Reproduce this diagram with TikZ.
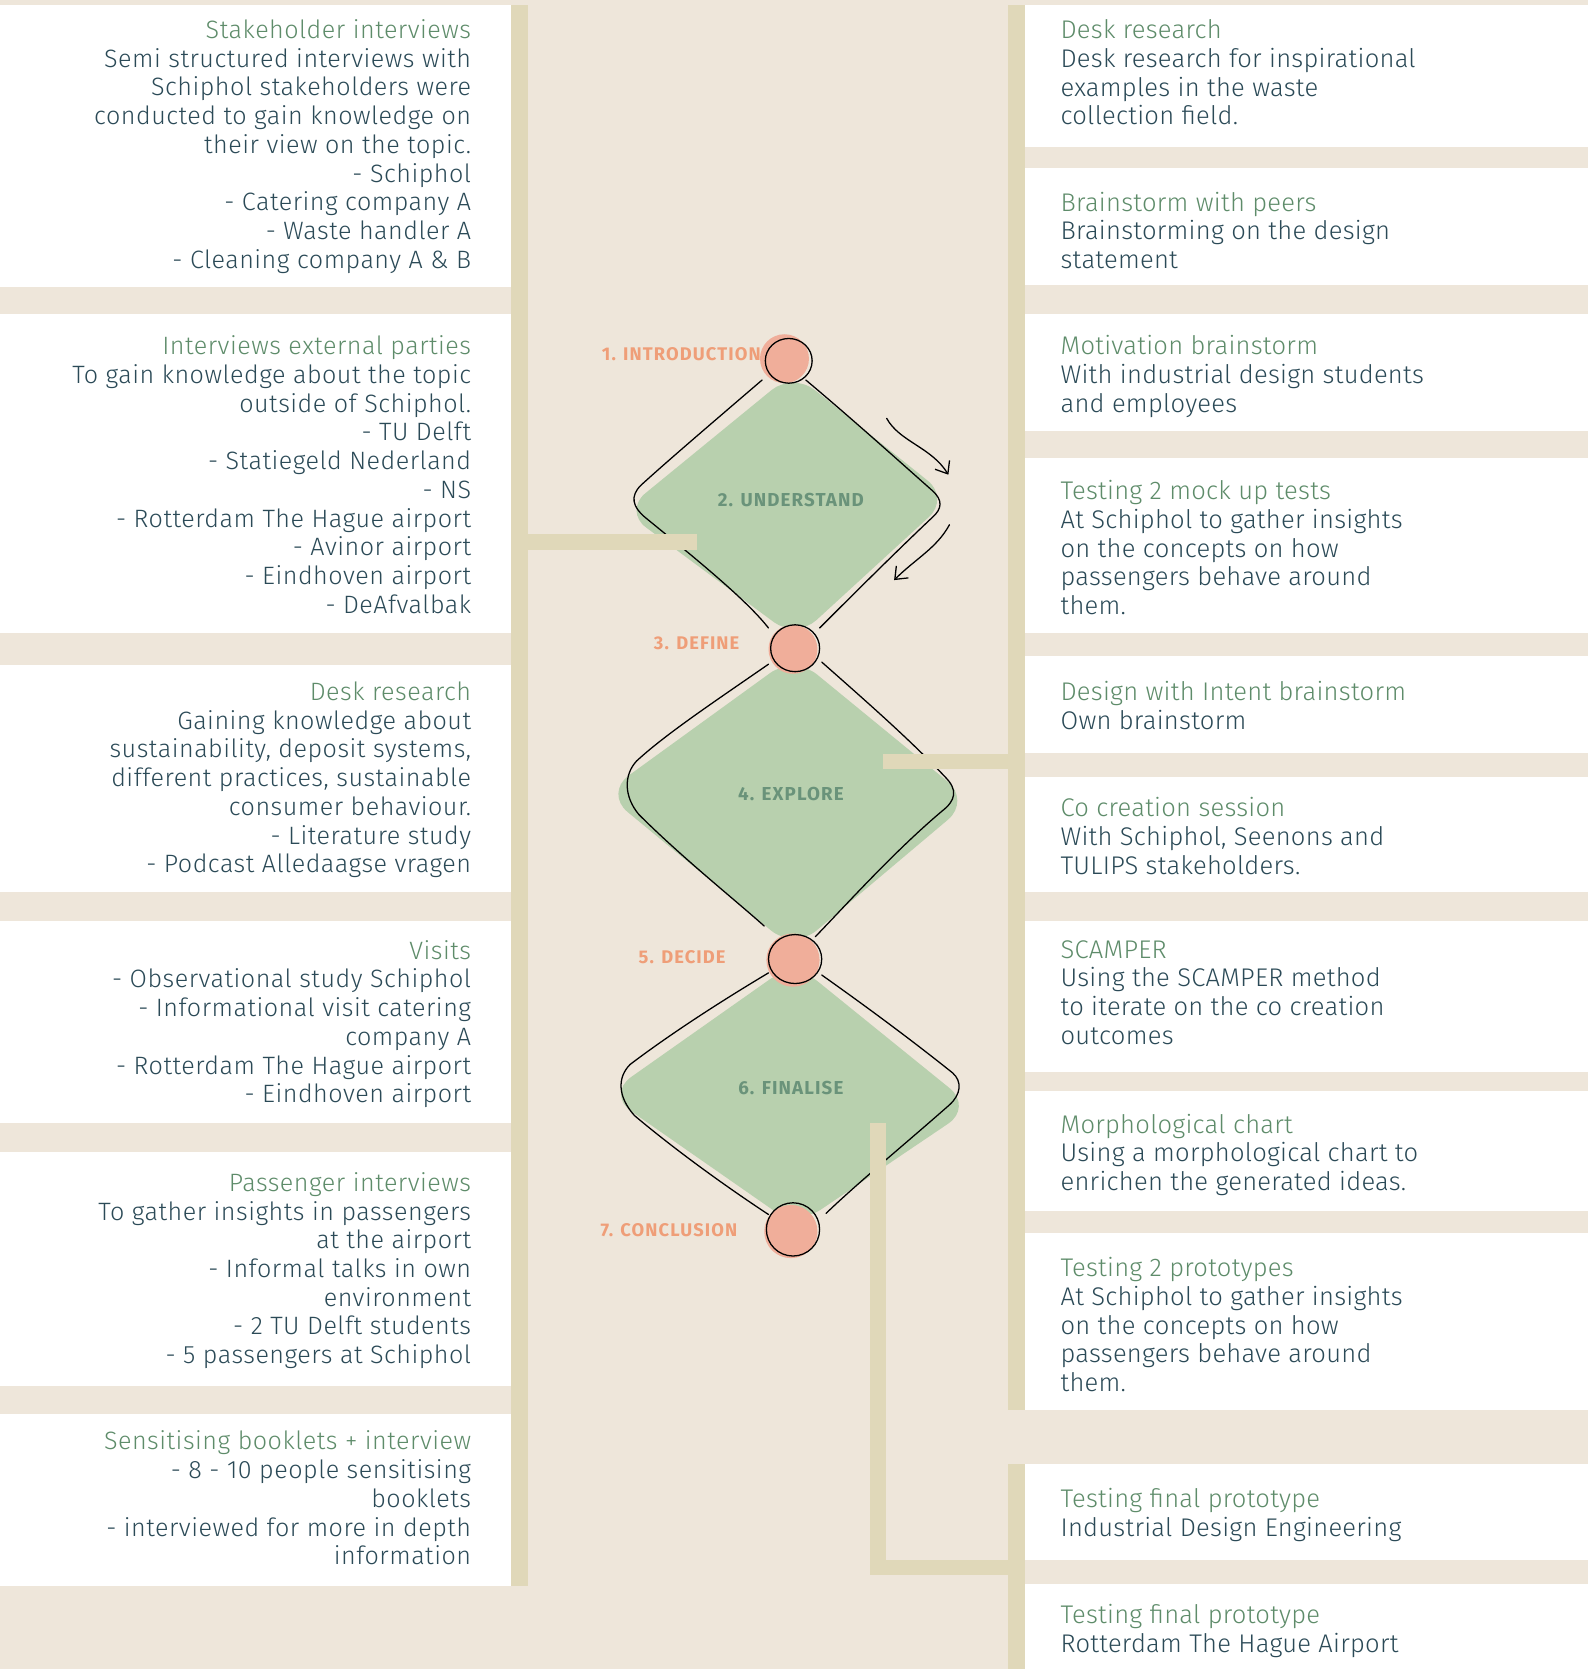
\documentclass[tikz,border=0pt]{standalone}
\usepackage{fontspec}
\setmainfont{Fira Sans}
\newfontfamily\lightfont{Fira Sans Light}[LetterSpace=2]
\newfontfamily\rlightfont{Fira Sans Light}[LetterSpace=1]
\newfontfamily\labfont{Fira Sans Bold}[LetterSpace=6]
\usetikzlibrary{arrows.meta,shapes.geometric}
\definecolor{bg}{HTML}{EEE6DA}
\definecolor{tanbar}{HTML}{E0D8B9}
\definecolor{ttl}{HTML}{5E8C6A}
\definecolor{bodytxt}{HTML}{2B4A57}
\definecolor{salmon}{HTML}{F0AE9A}
\definecolor{leaf}{HTML}{B8D0AE}
\definecolor{lbl}{HTML}{EF9E78}
\definecolor{phase}{HTML}{6A937A}
\begin{document}
\begin{tikzpicture}[x=0.5pt,y=-0.5pt,
  wbox/.style={fill=white},
  tbar/.style={fill=tanbar},
  ltext/.style={anchor=north east,align=right,inner sep=0pt,text=bodytxt,font=\lightfont\fontsize{11.8}{13.5}\selectfont},
  rtext/.style={anchor=north west,align=left,inner sep=0pt,text=bodytxt,font=\rlightfont\fontsize{12}{13.5}\selectfont},
  steplabel/.style={anchor=east,inner sep=0pt,text=lbl,font=\labfont\fontsize{8.6}{9}\selectfont},
  phaselabel/.style={inner sep=0pt,text=phase,font=\labfont\fontsize{8.8}{9}\selectfont},
  sketch/.style={draw=black,line width=0.6pt,line cap=round},
  dotfill/.style={fill=salmon},
  dot/.style={ellipse,draw=black,line width=0.6pt,minimum width=22pt,minimum height=21pt,inner sep=0pt},
  turn/.style={draw=black,line width=0.6pt,line cap=round,-{Straight Barb[length=5pt,width=8pt]}}
]
% background
\fill[bg] (0,0) rectangle (1492,1568);
\useasboundingbox (0,0) rectangle (1492,1568);

% ---- diamonds (fills) ----
\fill[leaf,rounded corners=13pt] (745,350) -- (892,468) -- (748,600) -- (586,480) -- cycle;
\fill[leaf,rounded corners=14pt] (746,616) -- (912,752) -- (746,892) -- (568,745) -- cycle;
\fill[leaf,rounded corners=14pt] (746,904) -- (914,1040) -- (748,1152) -- (570,1028) -- cycle;

% ---- diamond outlines ----
\draw[sketch] (716,357) .. controls (660,405) and (625,435) .. (602,456) .. controls (592,466) and (594,476) .. (606,486) .. controls (650,522) and (700,562) .. (722,590);
\draw[sketch] (757,357) .. controls (800,393) and (850,438) .. (876,461) .. controls (886,470) and (885,478) .. (876,486) .. controls (840,520) and (795,565) .. (770,590);
\draw[sketch] (722,624) .. controls (670,660) and (625,690) .. (598,715) .. controls (586,728) and (586,748) .. (600,765) .. controls (640,805) and (690,845) .. (718,870);
\draw[sketch] (772,622) .. controls (815,660) and (855,695) .. (888,730) .. controls (900,742) and (898,752) .. (885,762) .. controls (840,800) and (795,850) .. (766,880);
\draw[sketch] (722,914) .. controls (670,945) and (625,975) .. (592,1000) .. controls (580,1012) and (580,1030) .. (596,1048) .. controls (640,1085) and (690,1120) .. (722,1141);
\draw[sketch] (772,916) .. controls (820,950) and (860,980) .. (895,1008) .. controls (904,1016) and (903,1028) .. (892,1038) .. controls (850,1075) and (805,1112) .. (776,1140);

% ---- circles ----
\fill[dotfill] (737,337) circle (23);
\fill[dotfill] (745,610) circle (23);
\fill[dotfill] (745,902) circle (25);
\fill[dotfill] (743,1157) circle (25);
\node[dot] (c1) at (741,339) {};
\node[dot,minimum width=23pt,minimum height=22pt] (c3) at (747,609) {};
\node[dot,minimum width=25pt,minimum height=23pt] (c5) at (747,901) {};
\node[dot,minimum width=25pt,minimum height=25pt] (c7) at (745,1155) {};

% ---- phase labels ----
\node[steplabel] (s1) at (715,333) {1. INTRODUCTION};
\node[steplabel] (s3) at (695,604) {3. DEFINE};
\node[steplabel] (s5) at (682,899) {5. DECIDE};
\node[steplabel] (s7) at (693,1156) {7. CONCLUSION};
\node[phaselabel] (p2) at (743,470) {2. UNDERSTAND};
\node[phaselabel] (p4) at (743,746) {4. EXPLORE};
\node[phaselabel] (p6) at (743,1022) {6. FINALISE};

% ---- iteration arrows ----
\coordinate (a1s) at (833,393);
\coordinate (a1e) at (891,446);
\coordinate (a2s) at (892,493);
\coordinate (a2e) at (840,545);
\draw[turn] (a1s) .. controls (845,415) and (875,420) .. (a1e);
\draw[turn] (a2s) .. controls (880,515) and (860,525) .. (a2e);

% ---- left column boxes ----
\fill[wbox] (0,5) rectangle (480,270);
\fill[wbox] (0,295) rectangle (480,595);
\fill[wbox] (0,625) rectangle (480,838);
\fill[wbox] (0,865) rectangle (480,1055);
\fill[wbox] (0,1082) rectangle (480,1302);
\fill[wbox] (0,1328) rectangle (480,1490);

% ---- right column boxes ----
\fill[wbox] (963,5) rectangle (1492,138);
\fill[wbox] (963,158) rectangle (1492,268);
\fill[wbox] (963,295) rectangle (1492,405);
\fill[wbox] (963,430) rectangle (1492,595);
\fill[wbox] (963,616) rectangle (1492,707);
\fill[wbox] (963,730) rectangle (1492,838);
\fill[wbox] (963,865) rectangle (1492,1007);
\fill[wbox] (963,1025) rectangle (1492,1138);
\fill[wbox] (963,1158) rectangle (1492,1325);
\fill[wbox] (963,1375) rectangle (1492,1466);
\fill[wbox] (963,1488) rectangle (1492,1568);

% ---- tan bars ----
\fill[tbar] (480,5) rectangle (496,1490);
\fill[tbar] (496,502) rectangle (655,517);
\fill[tbar] (947,5) rectangle (963,1325);
\fill[tbar] (830,708) rectangle (947,722);
\fill[tbar] (817,1055) rectangle (832,1480);
\fill[tbar] (817,1466) rectangle (963,1480);
\fill[tbar] (947,1375) rectangle (963,1568);

% ---- left texts ----
\node[ltext] (l1) at (443,18) {{\color{ttl}Stakeholder interviews}\\Semi structured interviews with\\Schiphol stakeholders were\\conducted to gain knowledge on\\their view on the topic.\\- Schiphol\\- Catering company A\\- Waste handler A\\- Cleaning company A \& B};
\node[ltext] (l2) at (443,315) {{\color{ttl}Interviews external parties}\\To gain knowledge about the topic\\outside of Schiphol.\\- TU Delft\\- Statiegeld Nederland\\- NS\\- Rotterdam The Hague airport\\- Avinor airport\\- Eindhoven airport\\- DeAfvalbak};
\node[ltext] (l3) at (443,640) {{\color{ttl}Desk research}\\Gaining knowledge about\\sustainability, deposit systems,\\different practices, sustainable\\consumer behaviour.\\- Literature study\\- Podcast Alledaagse vragen};
\node[ltext] (l4) at (443,883) {{\color{ttl}Visits}\\- Observational study Schiphol\\- Informational visit catering\\company A\\- Rotterdam The Hague airport\\- Eindhoven airport};
\node[ltext] (l5) at (443,1101) {{\color{ttl}Passenger interviews}\\To gather insights in passengers\\at the airport\\- Informal talks in own\\environment\\- 2 TU Delft students\\- 5 passengers at Schiphol};
\node[ltext] (l6) at (443,1344) {{\color{ttl}Sensitising booklets + interview}\\- 8 - 10 people sensitising\\booklets\\- interviewed for more in depth\\information};

% ---- right texts ----
\node[rtext] (r1) at (996,18) {{\color{ttl}Desk research}\\Desk research for inspirational\\examples in the waste\\collection field.};
\node[rtext] (r2) at (996,180) {{\color{ttl}Brainstorm with peers}\\Brainstorming on the design\\statement};
\node[rtext] (r3) at (996,315) {{\color{ttl}Motivation brainstorm}\\With industrial design students\\and employees};
\node[rtext] (r4) at (996,451) {{\color{ttl}Testing 2 mock up tests}\\At Schiphol to gather insights\\on the concepts on how\\passengers behave around\\them.};
\node[rtext] (r5) at (996,640) {{\color{ttl}Design with Intent brainstorm}\\Own brainstorm};
\node[rtext] (r6) at (996,749) {{\color{ttl}Co creation session}\\With Schiphol, Seenons and\\TULIPS stakeholders.};
\node[rtext] (r7) at (996,883) {{\color{ttl}SCAMPER}\\Using the SCAMPER method\\to iterate on the co creation\\outcomes};
\node[rtext] (r8) at (996,1046) {{\color{ttl}Morphological chart}\\Using a morphological chart to\\enrichen the generated ideas.};
\node[rtext] (r9) at (996,1181) {{\color{ttl}Testing 2 prototypes}\\At Schiphol to gather insights\\on the concepts on how\\passengers behave around\\them.};
\node[rtext] (r10) at (996,1398) {{\color{ttl}Testing final prototype}\\Industrial Design Engineering};
\node[rtext] (r11) at (996,1507) {{\color{ttl}Testing final prototype}\\Rotterdam The Hague Airport};
\end{tikzpicture}
\end{document}
